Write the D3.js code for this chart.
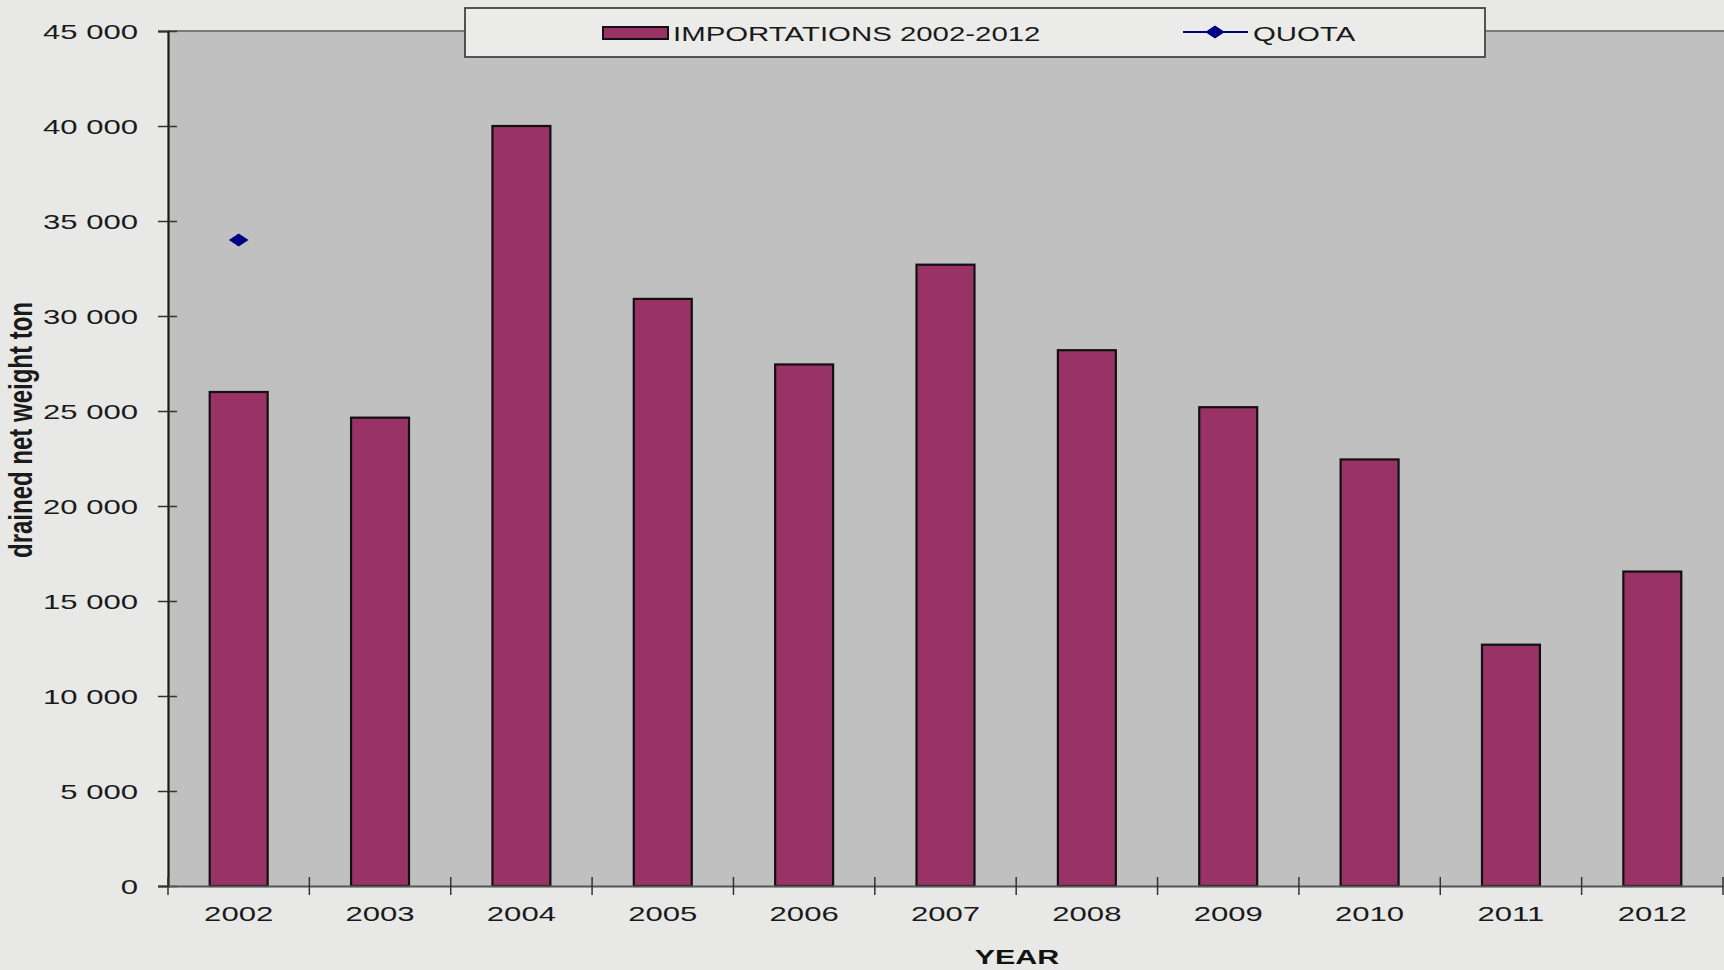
<!DOCTYPE html>
<html>
<head>
<meta charset="utf-8">
<script src="https://cdn.jsdelivr.net/npm/d3@7"></script>
<style>
  body { margin: 0; background: #e8e8e6; }
  svg { display: block; font-family: "Liberation Sans", Arial, sans-serif; }
</style>
</head>
<body>
<svg width="1724" height="970"></svg>
<script>
// Data
const years = ['2002', '2003', '2004', '2005', '2006', '2007', '2008', '2009', '2010', '2011', '2012']
const importations = [26000, 24650, 40000, 30900, 27450, 32700, 28200, 25200, 22450, 12700, 16550]
const quota = [34000, null, null, null, null, null, null, null, null, null, null]
const yTicks = [0, 5000, 10000, 15000, 20000, 25000, 30000, 35000, 40000, 45000]

// Set up
const svg = d3.select('svg')
const plotLeft = 168, plotRight = 1723, plotTop = 31, plotBottom = 886
const sNum = 1.48   // the picture is stretched sideways
const sLeg = 1.4
const textColor = '#1a1a1a'

const x = d3.scaleBand()
    .domain(years)
    .range([plotLeft, plotRight])
    .paddingInner(0.59)
    .paddingOuter(0.295)

const y = d3.scaleLinear()
    .domain([0, 45000])
    .range([plotBottom, plotTop])

// plot area
svg.append('rect')
    .attr('x', plotLeft)
    .attr('y', plotTop)
    .attr('width', plotRight - plotLeft + 2)
    .attr('height', plotBottom - plotTop)
    .style('fill', '#c0c0c0')

svg.append('line')
    .attr('x1', plotLeft).attr('x2', 1724)
    .attr('y1', plotTop).attr('y2', plotTop)
    .style('stroke', '#7a7a7a')
    .style('stroke-width', 2)

// bars
svg.selectAll('rect.bar')
    .data(importations)
    .join('rect')
    .attr('class', 'bar')
    .attr('x', (d, i) => x(years[i]))
    .attr('y', d => y(d))
    .attr('width', x.bandwidth())
    .attr('height', d => y(0) - y(d))
    .style('fill', '#993366')
    .style('stroke', '#111')
    .style('stroke-width', 2.2)

// y axis
const yAxis = svg.append('g')
    .attr('transform', `translate(${plotLeft},0)`)
    .call(d3.axisLeft(y)
        .tickValues(yTicks)
        .tickSize(10)
        .tickFormat(d => d3.format(',')(d).replace(/,/g, ' ')))

yAxis.select('.domain').style('stroke', '#1a1a1a').style('stroke-width', 2.2)
yAxis.selectAll('.tick line')
    .attr('x1', 9)
    .style('stroke', '#333')
    .style('stroke-width', 1.5)
yAxis.selectAll('.tick text')
    .attr('x', -30 / sNum)
    .attr('dy', '0.36em')
    .attr('transform', `scale(${sNum},1)`)
    .style('font-size', '21px')
    .style('fill', textColor)
    .style('font-family', '"Liberation Sans", Arial, sans-serif')

// x axis
const xAxis = svg.append('g')
    .attr('transform', `translate(0,${plotBottom})`)
    .call(d3.axisBottom(x).tickSize(0))

xAxis.select('.domain').style('stroke', '#555').style('stroke-width', 2)
xAxis.selectAll('.tick text')
    .attr('y', 35.5)
    .attr('dy', 0)
    .attr('x', 0)
    .attr('transform', `scale(${sNum},1)`)
    .style('font-size', '21px')
    .style('fill', textColor)
    .style('font-family', '"Liberation Sans", Arial, sans-serif')

// ticks between the categories
xAxis.selectAll('line.sep')
    .data(d3.range(years.length + 1))
    .join('line')
    .attr('class', 'sep')
    .attr('x1', i => x.range()[0] + i * x.step())
    .attr('x2', i => x.range()[0] + i * x.step())
    .attr('y1', -9)
    .attr('y2', 9)
    .style('stroke', '#333')
    .style('stroke-width', 1.5)

// quota
const quotaLine = d3.line()
    .defined(d => d !== null)
    .x((d, i) => x(years[i]) + x.bandwidth() / 2)
    .y(d => y(d))

svg.append('path')
    .datum(quota)
    .attr('d', quotaLine)
    .style('fill', 'none')
    .style('stroke', '#000080')
    .style('stroke-width', 2)

const diamond = d3.symbol().type(d3.symbolDiamond2).size(110)

svg.selectAll('path.quota')
    .data(quota.map((d, i) => [years[i], d]).filter(d => d[1] !== null))
    .join('path')
    .attr('class', 'quota')
    .attr('d', diamond)
    .attr('transform', d => `translate(${x(d[0]) + x.bandwidth() / 2},${y(d[1])}) scale(1.5,1)`)
    .style('fill', '#000080')

// axis titles
svg.append('text')
    .text('drained net weight ton')
    .attr('transform', 'translate(32,430) scale(1.4,1) rotate(-90)')
    .attr('text-anchor', 'middle')
    .style('font-size', '24px')
    .style('font-weight', 'bold')
    .style('fill', textColor)

svg.append('text')
    .text('YEAR')
    .attr('transform', 'translate(1017,964) scale(1.45,1)')
    .attr('text-anchor', 'middle')
    .style('font-size', '21px')
    .style('font-weight', 'bold')
    .style('fill', '#111')

// legend
const legend = svg.append('g')

legend.append('rect')
    .attr('x', 465).attr('y', 8)
    .attr('width', 1020).attr('height', 49)
    .style('fill', '#ebebea')
    .style('stroke', '#444')
    .style('stroke-width', 1.8)

legend.append('rect')
    .attr('x', 603).attr('y', 27)
    .attr('width', 65).attr('height', 12)
    .style('fill', '#993366')
    .style('stroke', '#111')
    .style('stroke-width', 2)

legend.append('text')
    .text('IMPORTATIONS 2002-2012')
    .attr('transform', `translate(673,40.5) scale(${sLeg},1)`)
    .style('font-size', '21px')
    .style('fill', textColor)

legend.append('line')
    .attr('x1', 1183).attr('x2', 1248)
    .attr('y1', 32).attr('y2', 32)
    .style('stroke', '#000080')
    .style('stroke-width', 2)

legend.append('path')
    .attr('d', diamond)
    .attr('transform', 'translate(1215,32) scale(1.5,1)')
    .style('fill', '#000080')

legend.append('text')
    .text('QUOTA')
    .attr('transform', `translate(1253,40.5) scale(${sLeg},1)`)
    .style('font-size', '21px')
    .style('fill', textColor)
</script>
</body>
</html>
